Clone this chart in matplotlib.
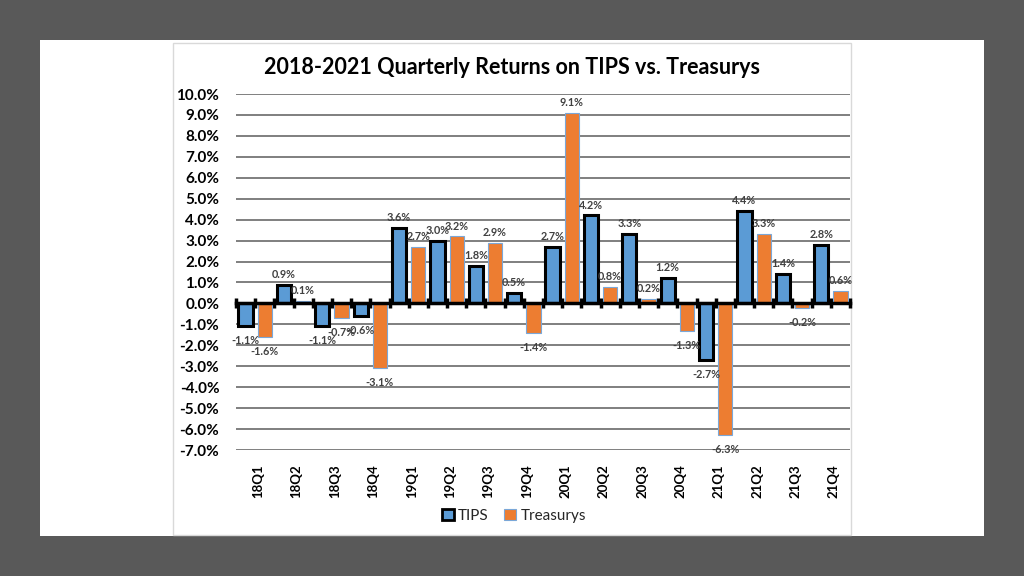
import numpy as np
import matplotlib
matplotlib.use("Agg")
import matplotlib.pyplot as plt
from matplotlib.patches import Rectangle, Patch
from matplotlib.ticker import FuncFormatter, MultipleLocator

plt.rcParams['font.family'] = ['Lato', 'DejaVu Sans']

# %% data
quarters = ['18Q1', '18Q2', '18Q3', '18Q4', '19Q1', '19Q2', '19Q3', '19Q4',
            '20Q1', '20Q2', '20Q3', '20Q4', '21Q1', '21Q2', '21Q3', '21Q4']
tips = [-1.1, 0.9, -1.1, -0.6, 3.6, 3.0, 1.8, 0.5,
        2.7, 4.2, 3.3, 1.2, -2.7, 4.4, 1.4, 2.8]
treasurys = [-1.6, 0.1, -0.7, -3.1, 2.7, 3.2, 2.9, -1.4,
             9.1, 0.8, 0.2, -1.3, -6.3, 3.3, -0.2, 0.6]

W, H = 1024, 576
fig = plt.figure(figsize=(W / 100, H / 100), dpi=100)
fig.patch.set_facecolor('#595959')

def px_rect(x0, y0, x1, y1, **kw):
    # rectangle in pixel coords (top-left origin)
    return Rectangle((x0 / W, 1 - y1 / H), (x1 - x0) / W, (y1 - y0) / H,
                     transform=fig.transFigure, **kw)

fig.patches.append(px_rect(40, 40, 984, 536, facecolor='white', edgecolor='none', zorder=0))
fig.patches.append(px_rect(173, 43, 851, 535, facecolor='white', edgecolor='#d9d9d9',
                           linewidth=1, zorder=1))

ax = fig.add_axes([236 / W, 1 - 450 / H, 614 / W, 356 / H])
ax.set_facecolor('none')
ax.set_zorder(2)

x = np.arange(len(quarters))
bw = 0.37
b1 = ax.bar(x - 0.25, tips, bw, color='#5b9bd5', edgecolor='black', linewidth=2.2, zorder=3)
b2 = ax.bar(x + 0.25, treasurys, bw, color='#ed7d31', edgecolor='#7aa7d8', linewidth=0.8, zorder=3)

for bars, vals in ((b1, tips), (b2, treasurys)):
    for b, v in zip(bars, vals):
        cx = b.get_x() + b.get_width() / 2
        off = 3.5 if v >= 0 else -6.5
        ax.annotate(f'{v:.1f}%', (cx, v), xytext=(0, off), textcoords='offset points',
                    ha='center', va='bottom' if v >= 0 else 'top',
                    fontsize=7.8, fontweight='bold', color='#404040', zorder=5)

ax.set_xlim(-0.5, len(quarters) - 0.5)
ax.set_ylim(-7, 10)
ax.yaxis.set_major_locator(MultipleLocator(1))
ax.yaxis.set_major_formatter(FuncFormatter(lambda v, p: f'{v:.1f}%'))
ax.grid(axis='y', color='#7f7f7f', linewidth=1.4, zorder=1)
ax.set_axisbelow(True)
for s in ('top', 'right', 'left'):
    ax.spines[s].set_visible(False)
ax.tick_params(axis='y', length=0, pad=12, labelsize=11)
for t in ax.get_yticklabels():
    t.set_fontweight('bold')

# zero axis with cross tick marks
ax.spines['bottom'].set_position(('data', 0))
ax.spines['bottom'].set_linewidth(2.5)
ax.spines['bottom'].set_zorder(4)
ax.set_xticks(np.arange(-0.5, len(quarters), 0.5))
ax.tick_params(axis='x', direction='inout', length=7, width=2.5, labelbottom=False)

# category labels at the bottom
sec = ax.secondary_xaxis(0.0)
sec.set_xticks(x + 0.08)
sec.set_xticklabels(quarters, rotation=90, fontweight='bold', fontsize=9.5)
sec.tick_params(length=0, pad=10)
sec.spines['bottom'].set_visible(False)

fig.text(512 / W, 1 - 68 / H, '2018-2021 Quarterly Returns on TIPS vs. Treasurys',
         ha='center', va='center', fontsize=15.5, fontweight='bold', color='black')

handles = [Patch(facecolor='#5b9bd5', edgecolor='black', linewidth=2),
           Patch(facecolor='#ed7d31', edgecolor='#7aa7d8', linewidth=0.8)]
fig.legend(handles, ['TIPS', 'Treasurys'], loc='center', bbox_to_anchor=(514 / W, 1 - 516 / H),
           ncol=2, frameon=False, fontsize=11, handlelength=0.75, handleheight=0.75,
           handletextpad=0.3, columnspacing=1.0, labelcolor='#262626')

plt.savefig('out.png', dpi=100, facecolor=fig.get_facecolor())
